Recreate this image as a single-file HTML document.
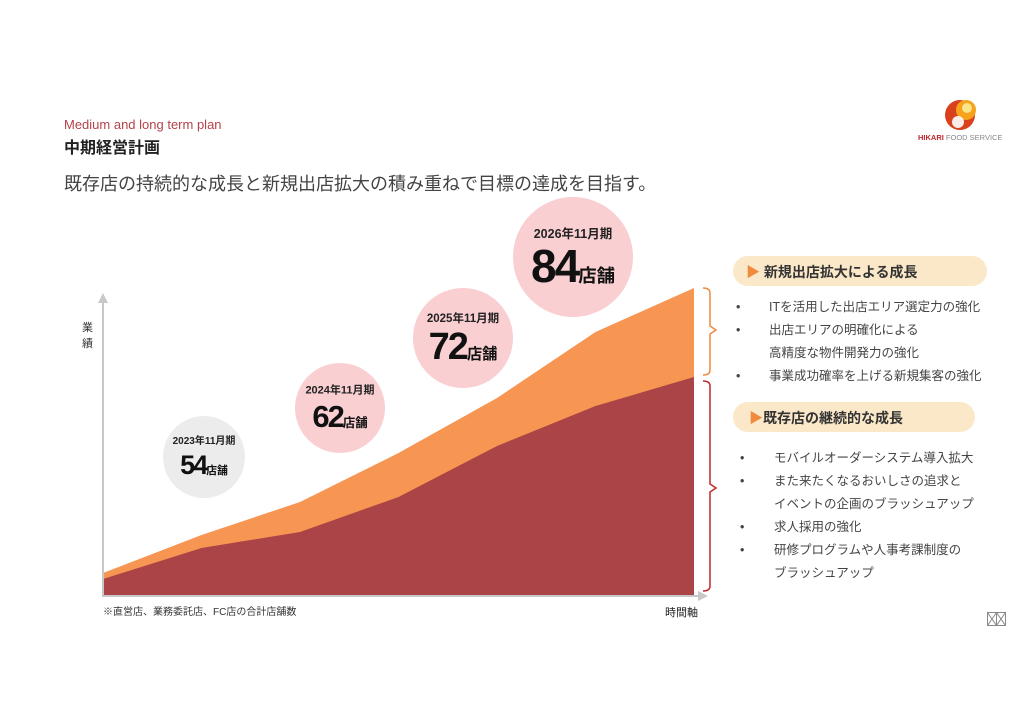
<!DOCTYPE html>
<html><head><meta charset="utf-8">
<style>
body{margin:0;width:1024px;height:724px;background:#fff;position:relative;overflow:hidden;font-family:"Liberation Sans","Noto Sans CJK JP",sans-serif;color:#333}
.abs{position:absolute;white-space:nowrap}
.bul{font-size:12.5px;color:#444}
.bul div{position:relative;height:23px;line-height:23px}
.bul i{font-style:normal;position:absolute;left:0;top:0;line-height:23px}
.bul span{position:absolute;top:0;line-height:23px}
</style></head><body>
<div class="abs" style="left:64px;top:117px;font-size:13px;color:#b5424a">Medium and long term plan</div>
<div class="abs" style="left:64px;top:134px;font-size:16px;font-weight:bold;color:#222">中期経営計画</div>
<div class="abs" style="left:64px;top:170px;font-size:18px;color:#444">既存店の持続的な成長と新規出店拡大の積み重ねで目標の達成を目指す。</div>
<div class="abs" style="left:918px;top:98px;width:100px;height:48px">
<svg width="100" height="48"><circle cx="42" cy="17" r="15" fill="#d9411e"/><circle cx="48" cy="12" r="10" fill="#f6a21a"/><circle cx="49" cy="10" r="5" fill="#fbe58a"/><circle cx="40" cy="24" r="6" fill="#fff" opacity="0.9"/></svg>
<div class="abs" style="left:0;top:35px;font-size:7.5px;color:#888"><b style="color:#c1272d">HIKARI</b> FOOD SERVICE</div></div>
<svg id="chart" width="1024" height="724" style="position:absolute;left:0;top:0"></svg>
<div class="abs" style="left:82px;top:320px;font-size:11px;line-height:16px;white-space:normal;width:12px">業<br>績</div>
<div class="abs" style="left:103px;top:603px;font-size:10px;color:#333">※直営店、業務委託店、FC店の合計店舗数</div>
<div class="abs" style="left:665px;top:604px;font-size:11px;color:#222">時間軸</div>
<div class="abs" style="left:733px;top:256px;width:254px;height:30px;border-radius:15px;background:#fbe8c8"></div>
<div class="abs" style="left:746px;top:262px;font-size:14px;font-weight:bold;color:#333"><span style="color:#f08a3c">▶</span> 新規出店拡大による成長</div>
<div class="abs bul" style="left:736px;top:296px;width:260px">
<div><i>•</i><span style="left:33px">ITを活用した出店エリア選定力の強化</span></div>
<div><i>•</i><span style="left:33px">出店エリアの明確化による</span></div>
<div><span style="left:33px">高精度な物件開発力の強化</span></div>
<div><i>•</i><span style="left:33px">事業成功確率を上げる新規集客の強化</span></div></div>
<div class="abs" style="left:733px;top:402px;width:242px;height:30px;border-radius:15px;background:#fbe8c8"></div>
<div class="abs" style="left:749px;top:408px;font-size:14px;font-weight:bold;color:#333"><span style="color:#f08a3c">▶</span>既存店の継続的な成長</div>
<div class="abs bul" style="left:740px;top:447px;width:260px">
<div><i>•</i><span style="left:34px">モバイルオーダーシステム導入拡大</span></div>
<div><i>•</i><span style="left:34px">また来たくなるおいしさの追求と</span></div>
<div><span style="left:34px">イベントの企画のブラッシュアップ</span></div>
<div><i>•</i><span style="left:34px">求人採用の強化</span></div>
<div><i>•</i><span style="left:34px">研修プログラムや人事考課制度の</span></div>
<div><span style="left:34px">ブラッシュアップ</span></div></div>
<svg class="abs" style="left:987px;top:612px" width="20" height="15"><rect x="0.5" y="0.5" width="18" height="13" fill="none" stroke="#888"/><path d="M0.5,0.5 L9.5,13.5 L18.5,0.5 M9.5,0.5 L9.5,13.5 M0.5,13.5 L9.5,0.5 L18.5,13.5" stroke="#888" fill="none"/></svg>
<script>
const steps=[0,1,2,3,4,5,6];
const existing=[16,47,63,98,149,189,218];
const total=[22,60,93,142,197,263,307];
const periods=['2023年11月期','2024年11月期','2025年11月期','2026年11月期'];
const stores=[54,62,72,84];
const ns='http://www.w3.org/2000/svg';
const svg=document.getElementById('chart');
const X=i=>103+i*(694-103)/6, Y=v=>595-v;
function mk(t,a){const e=document.createElementNS(ns,t);for(const k in a)e.setAttribute(k,a[k]);svg.appendChild(e);return e;}
function area(vals){let d='M'+X(0)+','+Y(0);vals.forEach((v,i)=>d+=' L'+X(i)+','+Y(v));return d+' L'+X(6)+','+Y(0)+' Z';}
const a1=mk('path',{d:area(total),fill:'#f79552'});

const a2=mk('path',{d:area(existing),fill:'#ab4446'});

const ax=mk('path',{d:'M103,295 L103,596 L703,596',stroke:'#c8c8c8','stroke-width':2,fill:'none'});

const ah=mk('path',{d:'M98,303 L103,293 L108,303 Z M698,591 L708,596 L698,601 Z',fill:'#c8c8c8'});

const b1=mk('path',{d:'M703,288 Q710,288 710,293 L710,326 L716,330 L710,334 L710,370 Q710,375 703,375',stroke:'#f08a3c','stroke-width':1.5,fill:'none'});

const b2=mk('path',{d:'M703,381 Q710,381 710,386 L710,484 L716,488 L710,492 L710,586 Q710,591 703,591',stroke:'#c1272d','stroke-width':1.5,fill:'none'});

const bubbles=[[204,457,41,'#ececec',10,27],[340,408,45,'#f9cfd2',11,31],[463,338,50,'#f9cfd2',11.5,38],[573,257,60,'#f9cfd2',12.5,46]];
bubbles.forEach((b,i)=>{
 const c=mk('ellipse',{cx:b[0],cy:b[1],rx:b[2],ry:b[2],fill:b[3]});
 
 const t=mk('text',{x:b[0],y:b[1]-b[2]*0.32,'text-anchor':'middle','font-size':b[4],'font-weight':'bold',fill:'#222'});
 t.textContent=periods[i];
 
 const n=mk('text',{x:b[0],y:b[1]+b[2]*0.42,'text-anchor':'middle','font-size':b[5],'font-weight':'bold',fill:'#111','letter-spacing':'-2'});
 n.textContent=stores[i];
 
 const s=document.createElementNS(ns,'tspan');s.setAttribute('font-size',b[5]*0.4);s.setAttribute('letter-spacing','0');s.textContent='店舗';n.appendChild(s);
});
</script>
</body></html>
